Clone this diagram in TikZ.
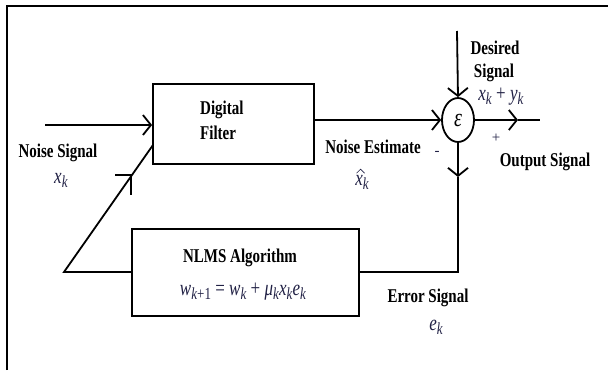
\documentclass[tikz,border=0pt]{standalone}
\usepackage{fontspec}
\setmainfont{Liberation Serif}
\usetikzlibrary{arrows.meta,shapes.geometric}
\definecolor{mathc}{rgb}{0.13,0.13,0.27}
\newcommand\tl[1]{\scalebox{1}[1.3]{#1}}
\newcommand\mi[1]{\textit{#1}}
\newcommand\sbk[1]{\raisebox{-0.4ex}{\fontsize{13}{14}\selectfont#1}}
\tikzset{
 lbl/.style={font=\fontsize{15}{18}\selectfont\bfseries, inner sep=0},
 mth/.style={font=\fontsize{17}{19}\selectfont, text=mathc, inner sep=0},
 box/.style={draw, line width=1.8pt, inner sep=0},
 wire/.style={line width=1.8pt},
 arr/.style={wire, -{Straight Barb[length=8pt,width=20pt]}},
}
\begin{document}
\begin{tikzpicture}[x=1pt,y=-1pt]
\useasboundingbox (0,0) rectangle (608,370);
% frame
\draw[line width=2pt] (7,370) -- (7,6) -- (608,6);
% blocks
\node[box, minimum width=161pt, minimum height=80pt] (filt) at (233.5,124) {};
\node[box, minimum width=227pt, minimum height=87pt] (nlms) at (245.5,272.5) {};
\node[box, ellipse, minimum width=32pt, minimum height=44pt] (sum) at (458,120) {\fontsize{20}{20}\selectfont\tl{\mi{ε}}};
% coordinates
\coordinate (nin) at (45,125);
\coordinate (dtop) at (457,31);
\coordinate (otip) at (518,120);
\coordinate (oend) at (540,120);
\coordinate (dtip) at (458,177);
\coordinate (ecorner) at (458,272);
\coordinate (fork) at (64,272);
\coordinate (dend) at (153,145);
\coordinate (atip) at (131,175);
% connectors
\draw[arr] (nin) -- (nin -| filt.west);
\draw[arr] (filt.east |- sum.west) -- (sum.west);
\draw[arr] (dtop) -- (sum.north);
\draw[arr] (sum.east) -- (otip);
\draw[wire] (otip) -- (oend);
\draw[arr] (sum.south) -- (dtip);
\draw[wire] (dtip) -- (ecorner) -- (nlms.east |- ecorner);
\draw[wire] (nlms.west |- fork) -- (fork) -- (dend);
\draw[wire] (atip) ++(-16,0) -- (atip) -- ++(0,20);
% texts
\node[lbl, anchor=west] (t1) at (200,110) {\tl{Digital}};
\node[lbl, anchor=west] (t2) at (200,133) {\tl{Filter}};
\node[lbl] (t3) at (58,153) {\tl{Noise Signal}};
\node[mth] (t4) at (61,180) {\tl{\mi{x}\sbk{\mi{k}}}};
\node[lbl] (t5) at (373,147) {\tl{Noise Estimate}};
\node[mth] (t6) at (362,182) {\tl{\mi{x}\sbk{\mi{k}}}};
\draw[mathc, line width=0.7pt] (t6.north west) ++(1.5,-1.5) -- ++(4,-4) -- ++(4,4);
\node[mth, font=\fontsize{15}{16}\selectfont] (t7) at (437,153) {-};
\node[mth, font=\fontsize{15}{16}\selectfont] (t8) at (496,138) {+};
\node[lbl] (t9) at (495,48) {\tl{Desired}};
\node[lbl] (t10) at (494,73) {\tl{Signal}};
\node[mth] (t11) at (501,97) {\tl{\mi{x}\sbk{\mi{k}} + \mi{y}\sbk{\mi{k}}}};
\node[lbl] (t12) at (545,162) {\tl{Output Signal}};
\node[lbl] (t13) at (240,258) {\tl{NLMS Algorithm}};
\node[mth] (t14) at (243,292) {\tl{\mi{w}\sbk{\mi{k}+1} = \mi{w}\sbk{\mi{k}} + \mi{μ}\sbk{\mi{k}}\mi{x}\sbk{\mi{k}}\mi{e}\sbk{\mi{k}}}};
\node[lbl] (t15) at (428,298) {\tl{Error Signal}};
\node[mth] (t16) at (436,327) {\tl{\mi{e}\sbk{\mi{k}}}};
\end{tikzpicture}
\end{document}
